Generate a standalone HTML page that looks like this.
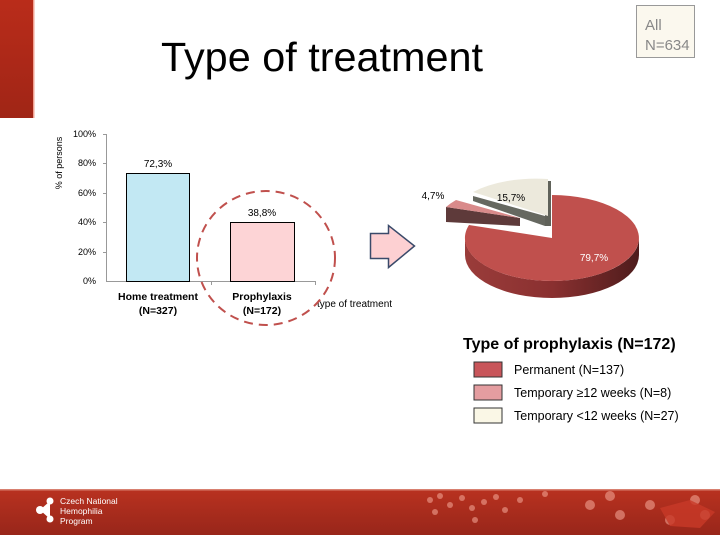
<!DOCTYPE html>
<html><head><meta charset="utf-8"><style>
html,body{margin:0;padding:0;background:#fff}
body{width:720px;height:540px;position:relative;overflow:hidden;font-family:"Liberation Sans",sans-serif}
</style></head><body>
<svg width="720" height="540" viewBox="0 0 720 540" xmlns="http://www.w3.org/2000/svg" style="position:absolute;left:0;top:0">
<defs>
<linearGradient id="rb" x1="0" y1="0" x2="0" y2="1"><stop offset="0" stop-color="#b92c1a"/><stop offset="1" stop-color="#a02516"/></linearGradient>
<linearGradient id="ft" x1="0" y1="0" x2="0" y2="1"><stop offset="0" stop-color="#b93220"/><stop offset="1" stop-color="#98261a"/></linearGradient>
<linearGradient id="side" x1="0" y1="0" x2="1" y2="0"><stop offset="0" stop-color="#9a3c3a"/><stop offset="0.5" stop-color="#8a3030"/><stop offset="1" stop-color="#4e1c1c"/></linearGradient>
</defs>
<rect x="0" y="0" width="33" height="118" fill="url(#rb)"/>
<rect x="33" y="0" width="1.5" height="118" fill="#f0a090"/>
<text x="322" y="71" font-size="41" text-anchor="middle" fill="#000" textLength="322" lengthAdjust="spacingAndGlyphs">Type of treatment</text>
<rect x="636.5" y="5.5" width="58" height="52" fill="#fbf8ee" stroke="#999"/>
<text x="645" y="30" font-size="15" fill="#888">All</text>
<text x="645" y="50" font-size="15" fill="#888">N=634</text>
<g font-size="9" fill="#000" text-anchor="end">
<text x="96" y="137">100%</text><text x="96" y="166">80%</text><text x="96" y="196">60%</text>
<text x="96" y="225">40%</text><text x="96" y="255">20%</text><text x="96" y="284">0%</text>
</g>
<text transform="translate(62,163) rotate(-90)" font-size="9" text-anchor="middle">% of persons</text>
<line x1="106.5" y1="134" x2="106.5" y2="281" stroke="#999"/>
<line x1="106" y1="281.5" x2="316" y2="281.5" stroke="#999"/>
<g stroke="#999"><line x1="103" y1="134.5" x2="106" y2="134.5"/><line x1="103" y1="163.5" x2="106" y2="163.5"/><line x1="103" y1="193.5" x2="106" y2="193.5"/><line x1="103" y1="222.5" x2="106" y2="222.5"/><line x1="103" y1="252.5" x2="106" y2="252.5"/><line x1="211.5" y1="281" x2="211.5" y2="285"/><line x1="315.5" y1="281" x2="315.5" y2="285"/></g>
<rect x="126.5" y="173.5" width="63" height="108" fill="#c2e8f3" stroke="#000"/>
<rect x="230.5" y="222.5" width="64" height="59" fill="#fdd4d6" stroke="#000"/>
<text x="158" y="167" font-size="10" text-anchor="middle">72,3%</text>
<text x="262" y="216" font-size="10" text-anchor="middle">38,8%</text>
<g font-size="10.5" font-weight="bold" text-anchor="middle">
<text x="158" y="300">Home treatment</text><text x="158" y="314">(N=327)</text>
<text x="262" y="300">Prophylaxis</text><text x="262" y="314">(N=172)</text>
</g>
<text x="317" y="307" font-size="10">type of treatment</text>
<ellipse cx="266" cy="258" rx="69" ry="67" fill="none" stroke="#c0504d" stroke-width="2" stroke-dasharray="9,6"/>
<path d="M370.5,233.5 L388.5,233.5 L388.5,225.5 L414.5,246 L388.5,267.5 L388.5,258.5 L370.5,258.5 Z" fill="#fdd0d2" stroke="#3a4a6a" stroke-width="1.5"/>
<!-- pie -->
<path d="M446,207 L446,222 L520,226 L520,218 Z" fill="#5e3a3a"/>
<path d="M520,218 L446,207 A87 43 0 0 1 456,200 Z" fill="#d98a8a"/>
<path d="M473,196 L473,201 L545,226 L545,216 Z" fill="#666860"/>
<path d="M545,216 L545,226 L551,226 L551,181 L548,181 Z" fill="#60625a"/>
<path d="M548,216 L473,192 A87 43 0 0 1 548,179 Z" fill="#ece9dc"/>
<path d="M465,238 A87 43 0 0 0 639,238 L639,255 A87 43 0 0 1 465,255 Z" fill="url(#side)"/>
<path d="M552,238 L552,195 A87 43 0 1 1 469,225 Z" fill="#c0504d"/>
<text x="433" y="199" font-size="10" text-anchor="middle">4,7%</text>
<text x="511" y="201" font-size="10" text-anchor="middle">15,7%</text>
<text x="594" y="261" font-size="10" text-anchor="middle" fill="#fff">79,7%</text>
<text x="463" y="349" font-size="16" font-weight="bold">Type of prophylaxis (N=172)</text>
<rect x="474" y="362" width="28" height="15" fill="#c8555a" stroke="#333"/>
<rect x="474" y="385" width="28" height="15" fill="#e49da0" stroke="#333"/>
<rect x="474" y="408" width="28" height="15" fill="#faf7e6" stroke="#333"/>
<g font-size="12.5" fill="#000"><text x="514" y="374">Permanent (N=137)</text><text x="514" y="397">Temporary ≥12 weeks (N=8)</text><text x="514" y="420">Temporary &lt;12 weeks (N=27)</text></g>
<rect x="0" y="489" width="720" height="46" fill="url(#ft)"/>
<rect x="0" y="489" width="720" height="1.5" fill="#d88070"/>
<g fill="#f0a090" opacity="0.6">
<circle cx="430" cy="500" r="3"/><circle cx="440" cy="496" r="3"/><circle cx="450" cy="505" r="3"/><circle cx="462" cy="498" r="3"/><circle cx="472" cy="508" r="3"/><circle cx="484" cy="502" r="3"/><circle cx="496" cy="497" r="3"/><circle cx="505" cy="510" r="3"/><circle cx="520" cy="500" r="3"/><circle cx="475" cy="520" r="3"/><circle cx="435" cy="512" r="3"/><circle cx="545" cy="494" r="3"/><circle cx="590" cy="505" r="5"/><circle cx="610" cy="496" r="5"/><circle cx="620" cy="515" r="5"/><circle cx="650" cy="505" r="5"/><circle cx="670" cy="520" r="5"/><circle cx="695" cy="500" r="5"/><circle cx="705" cy="515" r="5"/>
</g>
<path d="M660,508 L690,500 L715,512 L700,528 L670,526 Z" fill="#c83a28" opacity="0.8"/>
<g fill="#fff"><circle cx="40" cy="510" r="4"/><circle cx="50" cy="501" r="3.5"/><circle cx="50" cy="519" r="3.5"/><path d="M40,510 L50,501 L50,519 Z"/></g>
<g font-size="8.5" fill="#fff"><text x="60" y="504">Czech National</text><text x="60" y="514">Hemophilia</text><text x="60" y="524">Program</text></g>
</svg>
</body></html>
